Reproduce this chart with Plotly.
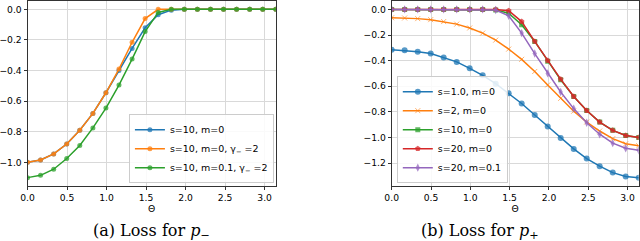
import numpy as np
import plotly.graph_objects as go

theta = [0.0, 0.165, 0.331, 0.496, 0.661, 0.827, 0.992, 1.157, 1.323, 1.488,
         1.653, 1.819, 1.984, 2.149, 2.315, 2.480, 2.645, 2.811, 2.976, 3.1416]

# (a) Loss for p-
a_s10_m0 = [-1.0, -0.985, -0.945, -0.88, -0.79, -0.68, -0.545, -0.40, -0.255, -0.12,
            -0.035, -0.005, 0, 0, 0, 0, 0, 0, 0, 0]
a_s10_m0_g2 = [-1.0, -0.985, -0.945, -0.88, -0.79, -0.68, -0.545, -0.39, -0.215, -0.06,
               0.0, 0, 0, 0, 0, 0, 0, 0, 0, 0]
a_s10_m01_g2 = [-1.1, -1.085, -1.045, -0.975, -0.89, -0.775, -0.645, -0.495, -0.325, -0.145,
                -0.02, 0, 0, 0, 0, 0, 0, 0, 0, 0]

# (b) Loss for p+
b_s1_m0 = [-0.315, -0.32, -0.33, -0.345, -0.375, -0.41, -0.46, -0.515, -0.58, -0.655,
           -0.735, -0.825, -0.915, -1.005, -1.09, -1.165, -1.225, -1.275, -1.305, -1.315]
b_s2_m0 = [-0.065, -0.067, -0.072, -0.08, -0.095, -0.115, -0.145, -0.185, -0.24, -0.31,
           -0.39, -0.485, -0.59, -0.695, -0.795, -0.88, -0.95, -1.01, -1.05, -1.065]
b_s10_m0 = [0, 0, 0, 0, 0, 0, 0, 0, -0.005, -0.03,
            -0.12, -0.25, -0.405, -0.55, -0.68, -0.79, -0.88, -0.945, -0.985, -1.0]
b_s20_m0 = [0, 0, 0, 0, 0, 0, 0, 0, 0, -0.01,
            -0.095, -0.25, -0.40, -0.545, -0.68, -0.79, -0.88, -0.945, -0.985, -1.0]
b_s20_m01 = [0, 0, 0, 0, 0, 0, 0, 0, -0.005, -0.05,
             -0.185, -0.345, -0.50, -0.645, -0.775, -0.885, -0.975, -1.045, -1.085, -1.1]

x_ticks = [0.0, 0.5, 1.0, 1.5, 2.0, 2.5, 3.0]
a_y_ticks = [0.0, -0.2, -0.4, -0.6, -0.8, -1.0]
b_y_ticks = [0.0, -0.2, -0.4, -0.6, -0.8, -1.0, -1.2]

C = ["#1f77b4", "#ff7f0e", "#2ca02c", "#d62728", "#9467bd"]

fig = go.Figure()

def add(x, y, name, color, symbol, axis, legend, size=5):
    fig.add_trace(go.Scatter(
        x=x, y=y, name=name, mode="lines+markers",
        line=dict(color=color, width=1.5),
        marker=dict(color=color, symbol=symbol, size=size, opacity=0.75,
                    line=dict(width=0.8 if "x" in symbol else 0, color=color)),
        xaxis="x" + axis, yaxis="y" + axis, legend=legend))

add(theta, a_s10_m0, "s=10, m=0", C[0], "circle", "", "legend")
add(theta, a_s10_m0_g2, "s=10, m=0, γ<sub>−</sub> =2", C[1], "circle", "", "legend")
add(theta, a_s10_m01_g2, "s=10, m=0.1, γ<sub>−</sub> =2", C[2], "circle", "", "legend")

add(theta, b_s1_m0, "s=1.0, m=0", C[0], "circle", "2", "legend2", 6)
add(theta, b_s2_m0, "s=2, m=0", C[1], "x-thin", "2", "legend2", 5)
add(theta, b_s10_m0, "s=10, m=0", C[2], "square", "2", "legend2", 5)
add(theta, b_s20_m0, "s=20, m=0", C[3], "pentagon", "2", "legend2", 6)
add(theta, b_s20_m01, "s=20, m=0.1", C[4], "diamond-tall", "2", "legend2", 6)

tickfont = dict(family="DejaVu Sans", size=9.2, color="black")
axcommon = dict(showgrid=True, gridcolor="#d9d9d9", gridwidth=1, showline=True,
                linecolor="#333", linewidth=1, mirror=True, ticks="outside",
                ticklen=3, tickcolor="#333", tickfont=tickfont, zeroline=False,
                tickformat=".1f", automargin=False)

legfont = dict(family="DejaVu Sans", size=9.5, color="black")

fig.update_layout(
    width=640, height=241, margin=dict(l=0, r=0, t=0, b=0),
    paper_bgcolor="white", plot_bgcolor="white",
    xaxis=dict(domain=[0.043, 0.431], range=[0, np.pi], tickvals=x_ticks,
               title=dict(text="Θ", font=tickfont, standoff=0), anchor="y", **axcommon),
    yaxis=dict(domain=[0.228, 0.996], range=[-1.155, 0.055], tickvals=a_y_ticks,
               anchor="x", **axcommon),
    xaxis2=dict(domain=[0.612, 0.998], range=[0, np.pi], tickvals=x_ticks,
                title=dict(text="Θ", font=tickfont, standoff=0), anchor="y2", **axcommon),
    yaxis2=dict(domain=[0.228, 0.996], range=[-1.38, 0.066], tickvals=b_y_ticks,
                anchor="x2", **axcommon),
    legend=dict(x=0.428, y=0.24, xanchor="right", yanchor="bottom",
                bgcolor="rgba(255,255,255,0.85)", bordercolor="#cccccc", borderwidth=1,
                font=legfont, tracegroupgap=0, itemwidth=30),
    legend2=dict(x=0.62, y=0.24, xanchor="left", yanchor="bottom",
                 bgcolor="rgba(255,255,255,0.85)", bordercolor="#cccccc", borderwidth=1,
                 font=legfont, tracegroupgap=0, itemwidth=30),
)
fig.add_annotation(text="(a) Loss for <i>p</i><sub>−</sub>", x=0.236, y=0.04,
                   xref="paper", yref="paper", xanchor="center", yanchor="middle",
                   showarrow=False,
                   font=dict(family="DejaVu Serif", size=16, color="black"))
fig.add_annotation(text="(b) Loss for <i>p</i><sub>+</sub>", x=0.75, y=0.04,
                   xref="paper", yref="paper", xanchor="center", yanchor="middle",
                   showarrow=False,
                   font=dict(family="DejaVu Serif", size=16, color="black"))

fig.write_html("out.html", config={"displayModeBar": False},
               post_script="document.body.style.margin='0px';document.body.style.overflow='hidden';")
